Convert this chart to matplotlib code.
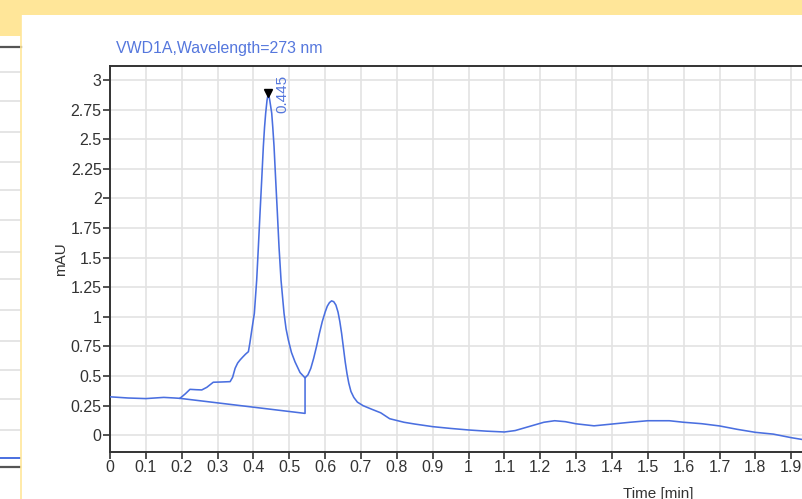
import matplotlib
matplotlib.use("Agg")
import matplotlib.pyplot as plt
from matplotlib.patches import Rectangle
from matplotlib.lines import Line2D

plt.rcParams['font.family'] = ['Liberation Sans', 'DejaVu Sans']

# signal trace
time_min = [0.00, 0.05, 0.10, 0.15, 0.18, 0.195, 0.21, 0.223, 0.24, 0.256,
            0.27, 0.288, 0.31, 0.335, 0.342, 0.349, 0.356, 0.363, 0.37, 0.378,
            0.386, 0.39, 0.397, 0.4026, 0.4091, 0.4138, 0.4184, 0.4231, 0.4277, 0.431,
            0.4342, 0.438, 0.4417, 0.4455, 0.451, 0.454, 0.4575, 0.4621, 0.4668, 0.4714,
            0.477, 0.4854, 0.491, 0.4974, 0.506, 0.516, 0.53, 0.544, 0.552, 0.56,
            0.568, 0.576, 0.584, 0.592, 0.6, 0.606, 0.612, 0.618, 0.624, 0.63,
            0.636, 0.641, 0.646, 0.651, 0.656, 0.661, 0.666, 0.672, 0.68, 0.69,
            0.706, 0.73, 0.755, 0.78, 0.82, 0.85, 0.9, 0.95, 1.0, 1.05,
            1.1, 1.13, 1.17, 1.21, 1.24, 1.27, 1.3, 1.35, 1.4, 1.45,
            1.5, 1.56, 1.6, 1.65, 1.7, 1.75, 1.8, 1.85, 1.9, 1.93]
mau = [0.325, 0.315, 0.31, 0.32, 0.315, 0.312, 0.35, 0.388, 0.385, 0.383,
       0.405, 0.448, 0.45, 0.453, 0.49, 0.566, 0.61, 0.637, 0.66, 0.685,
       0.706, 0.777, 0.92, 1.03, 1.31, 1.59, 1.876, 2.156, 2.44, 2.6,
       2.72, 2.83, 2.89, 2.83, 2.72, 2.6, 2.44, 2.156, 1.876, 1.59,
       1.31, 1.03, 0.9, 0.805, 0.7, 0.62, 0.53, 0.485, 0.51, 0.565,
       0.65, 0.75, 0.86, 0.96, 1.04, 1.09, 1.12, 1.135, 1.128, 1.1,
       1.04, 0.96, 0.86, 0.74, 0.62, 0.52, 0.44, 0.37, 0.32, 0.28,
       0.25, 0.22, 0.19, 0.14, 0.11, 0.095, 0.073, 0.058, 0.045, 0.035,
       0.028, 0.04, 0.075, 0.11, 0.123, 0.115, 0.097, 0.08, 0.095, 0.11,
       0.123, 0.123, 0.11, 0.098, 0.079, 0.05, 0.025, 0.01, -0.02, -0.035]

# integration baseline + drop line
base_t = [0.195, 0.544, 0.544]
base_y = [0.312, 0.185, 0.485]

peak_rt = 0.4417
peak_h = 2.89
peak_label = "0.445"

xticks = [i / 10 for i in range(20)]
yticks = [i * 0.25 for i in range(13)]

W, H = 802, 499
fig = plt.figure(figsize=(W / 100, H / 100), dpi=100)
fig.patch.set_facecolor('white')

def fx(px):
    return px / W

def fy(py):
    return 1 - py / H

yellow = '#ffe699'
# window chrome behind the plot
fig.add_artist(Rectangle((0, fy(15)), 1, 15 / H, transform=fig.transFigure,
                         color=yellow, lw=0, zorder=0))
fig.add_artist(Rectangle((0, fy(36)), fx(21), 36 / H, transform=fig.transFigure,
                         color=yellow, lw=0, zorder=0))
fig.add_artist(Line2D([fx(0), fx(21)], [fy(47), fy(47)], transform=fig.transFigure,
                      color='#555555', lw=1.6))
for py in [72, 101, 132, 162, 190, 220, 252, 279, 310, 341, 370, 399, 430]:
    fig.add_artist(Line2D([fx(0), fx(20)], [fy(py), fy(py)], transform=fig.transFigure,
                          color='#e0e0e0', lw=1.2))
fig.add_artist(Line2D([fx(0), fx(20)], [fy(458), fy(458)], transform=fig.transFigure,
                      color='#4a6fe0', lw=1.4))
fig.add_artist(Line2D([fx(0), fx(20)], [fy(467), fy(467)], transform=fig.transFigure,
                      color='#555555', lw=1.6))
fig.add_artist(Line2D([fx(21), fx(21)], [fy(15), 0], transform=fig.transFigure,
                      color=yellow, lw=1.2))

ax = fig.add_axes([fx(110), fy(452), 1 - fx(110), (452 - 66) / H])
ax.plot(time_min, mau, color='#4a6fe0', lw=1.15, zorder=3)
ax.plot(base_t, base_y, color='#4a6fe0', lw=1.15, zorder=3)
ax.plot([peak_rt], [peak_h], marker='v', color='black', ms=6, zorder=4)
ax.text(peak_rt + 0.039, 2.72, peak_label, rotation=90, ha='center', va='bottom',
        color='#5577dd', fontsize=11, clip_on=True)

ax.set_xlim(0, 1.93)
ax.set_ylim(-0.141, 3.118)
ax.set_xticks(xticks)
ax.set_xticklabels([f"{t:g}" for t in xticks])
ax.set_yticks(yticks)
ax.set_yticklabels([f"{v:g}" for v in yticks])
ax.grid(True, color='#e3e3e3', lw=1.2)
ax.set_axisbelow(True)
ax.spines['right'].set_visible(False)
for s in ['left', 'top', 'bottom']:
    ax.spines[s].set_color('#333333')
    ax.spines[s].set_linewidth(1.4)
ax.tick_params(direction='out', length=5, width=1.2, colors='#333333',
               labelsize=11.5, pad=1)

ax.set_ylabel('mAU', fontsize=11, color='#333333', labelpad=2)
ax.set_xlabel('Time [min]', fontsize=11, color='#333333')
ax.xaxis.set_label_coords((658 - 110) / (W - 110), -0.09)

fig.text(fx(116), fy(49), 'VWD1A,Wavelength=273 nm', color='#5577dd',
         fontsize=11.4, va='center', ha='left')

fig.savefig('out.png', dpi=100)
